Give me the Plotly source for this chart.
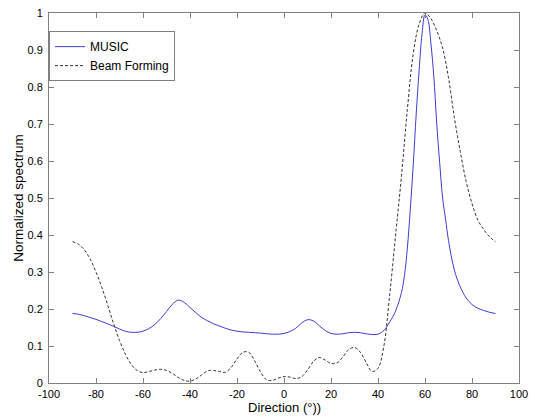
import plotly.graph_objects as go

music_x = [-90, -87.5, -85, -82.5, -80, -77.5, -75, -72.5, -70, -67.5, -65, -62.5, -60, -57.5, -55, -52.5,
           -50, -47.5, -45, -42.5, -40, -37.5, -35, -32.5, -30, -27.5, -25, -22.5, -20, -17.5, -15, -12.5,
           -10, -7.5, -5, -2.5, 0, 2.5, 5, 7.5, 10, 12.5, 15, 17.5, 20, 22.5, 25, 27.5, 30, 32.5, 35, 37.5,
           40, 42.5, 45, 47.5, 50, 51.25, 52.5, 53.75, 55, 56.25, 57.5, 58.75, 60, 61.25, 62.5, 63.75, 65,
           66.25, 67.5, 68.75, 70, 72.5, 75, 77.5, 80, 82.5, 85, 87.5, 90]
music_y = [0.188, 0.186, 0.182, 0.177, 0.172, 0.166, 0.160, 0.153, 0.146, 0.140, 0.137, 0.137, 0.140, 0.147,
           0.158, 0.174, 0.193, 0.213, 0.224, 0.218, 0.204, 0.190, 0.177, 0.168, 0.160, 0.154, 0.148, 0.143,
           0.140, 0.138, 0.137, 0.136, 0.135, 0.133, 0.132, 0.132, 0.134, 0.139, 0.148, 0.162, 0.171, 0.168,
           0.155, 0.142, 0.134, 0.132, 0.133, 0.136, 0.137, 0.136, 0.133, 0.131, 0.132, 0.142, 0.165, 0.195,
           0.245, 0.29, 0.365, 0.47, 0.59, 0.727, 0.845, 0.944, 0.995, 0.982, 0.918, 0.829, 0.70, 0.595, 0.50,
           0.443, 0.385, 0.305, 0.26, 0.23, 0.212, 0.202, 0.196, 0.191, 0.188]

beam_x = [-90, -87.5, -85, -82.5, -80, -77.5, -75, -72.5, -70, -67.5, -65, -62.5, -60, -57.5, -55, -52.5,
          -50, -47.5, -45, -42.5, -40, -37.5, -35, -32.5, -30, -27.5, -25, -22.5, -20, -17.5, -15, -12.5,
          -10, -7.5, -5, -2.5, 0, 2.5, 5, 7.5, 10, 12.5, 15, 17.5, 20, 22.5, 25, 27.5, 30, 32.5, 35, 37.5,
          40, 42.5, 45, 47.5, 50, 52.5, 55, 57.5, 60, 62.5, 65, 67.5, 70, 72.5, 75, 77.5, 80, 82.5, 85,
          87.5, 90]
beam_y = [0.382, 0.375, 0.36, 0.335, 0.30, 0.258, 0.21, 0.16, 0.115, 0.078, 0.05, 0.034, 0.028, 0.031, 0.035,
          0.037, 0.034, 0.026, 0.015, 0.007, 0.005, 0.011, 0.022, 0.033, 0.034, 0.031, 0.029, 0.042, 0.065,
          0.083, 0.083, 0.06, 0.03, 0.009, 0.007, 0.013, 0.017, 0.016, 0.012, 0.017, 0.035, 0.058, 0.069,
          0.062, 0.053, 0.054, 0.07, 0.09, 0.096, 0.083, 0.055, 0.031, 0.04, 0.10, 0.24, 0.40, 0.56, 0.74,
          0.89, 0.97, 1.0, 0.985, 0.952, 0.905, 0.825, 0.717, 0.626, 0.545, 0.485, 0.44, 0.415, 0.395, 0.382]

x_ticks = [-100, -80, -60, -40, -20, 0, 20, 40, 60, 80, 100]
x_tick_text = ["-100", "-80", "-60", "-40", "-20", "0", "20", "40", "60", "80", "100"]
y_ticks = [0, 0.1, 0.2, 0.3, 0.4, 0.5, 0.6, 0.7, 0.8, 0.9, 1]
y_tick_text = ["0", "0.1", "0.2", "0.3", "0.4", "0.5", "0.6", "0.7", "0.8", "0.9", "1"]

font = "Liberation Sans, Arial, sans-serif"

fig = go.Figure()
fig.add_trace(go.Scatter(x=music_x, y=music_y, mode="lines", name="MUSIC",
                         line=dict(color="#3d3dd6", width=1, shape="spline", smoothing=1)))
fig.add_trace(go.Scatter(x=beam_x, y=beam_y, mode="lines", name="Beam Forming",
                         line=dict(color="#333333", width=1, dash="3px,2px", shape="spline", smoothing=1)))

axis_common = dict(showgrid=False, zeroline=False, showline=True, linecolor="#808080", linewidth=1,
                   mirror="allticks", ticks="inside", ticklen=5, tickcolor="#808080", automargin=False,
                   tickfont=dict(family=font, size=11, color="black"))

fig.update_layout(
    width=535, height=417,
    margin=dict(l=49, r=16, t=13, b=34),
    paper_bgcolor="white", plot_bgcolor="white",
    font=dict(family=font, size=11, color="black"),
    xaxis=dict(range=[-100, 100], tickvals=x_ticks, ticktext=x_tick_text, ticklabelstandoff=1,
               **axis_common),
    yaxis=dict(range=[0, 1], tickvals=y_ticks, ticktext=y_tick_text, ticklabelstandoff=3,
               title=dict(text="Normalized spectrum", standoff=0, font=dict(family=font, size=13.5)),
               **axis_common),
    legend=dict(x=0, y=0.951, xanchor="left", yanchor="top", bgcolor="white",
                bordercolor="#808080", borderwidth=1, font=dict(family=font, size=12),
                tracegroupgap=0, itemwidth=30),
    showlegend=True,
    annotations=[dict(text="Direction (°))", xref="paper", yref="paper", x=0.5, y=-0.066,
                      xanchor="center", yanchor="middle", showarrow=False,
                      font=dict(family=font, size=13, color="black"))],
)

fig.write_html("out.html", config={"displayModeBar": False},
               post_script="document.body.style.margin='0';document.body.style.padding='0';")
